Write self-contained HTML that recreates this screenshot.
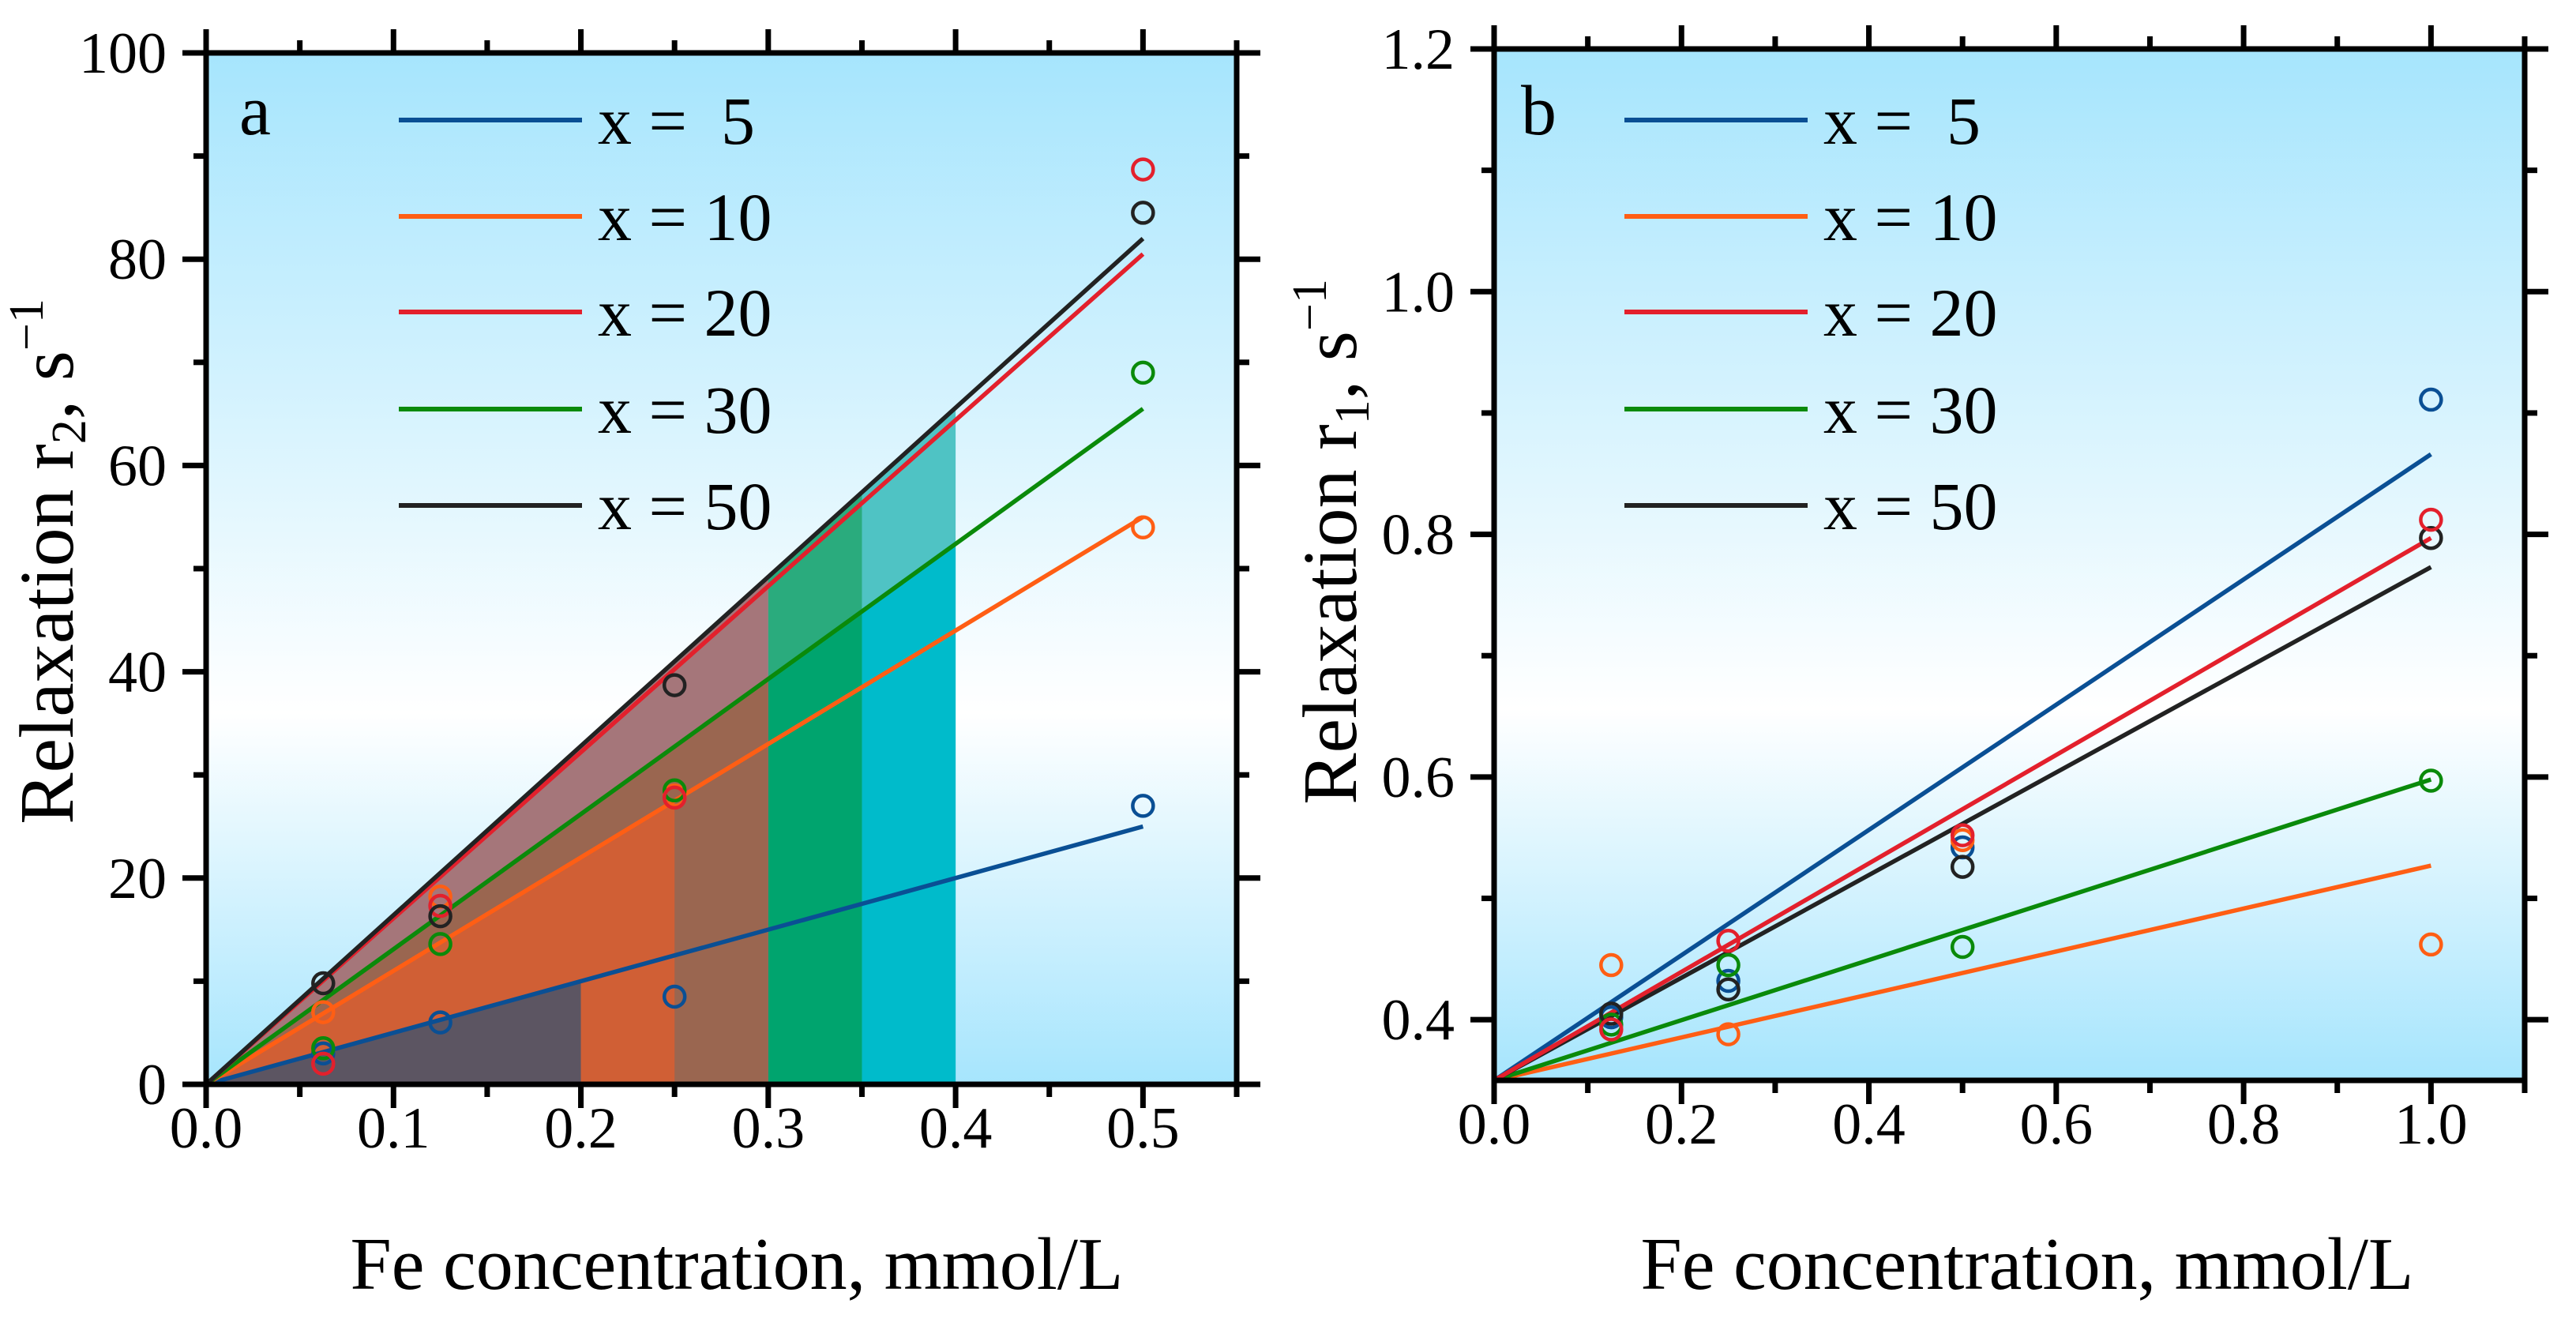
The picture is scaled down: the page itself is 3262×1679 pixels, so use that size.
<!DOCTYPE html>
<html><head><meta charset="utf-8">
<style>
html,body{margin:0;padding:0;background:#fff;}
svg{display:block;}
text{font-family:"Liberation Serif",serif;fill:#000;white-space:pre;}
</style></head>
<body>
<svg id="chart" width="3262" height="1679" viewBox="0 0 3262 1679" xmlns="http://www.w3.org/2000/svg">
<defs>
<linearGradient id="bg" x1="0" y1="0" x2="0" y2="1">
<stop offset="0" stop-color="#a6e5fd"/><stop offset="0.64" stop-color="#ffffff"/><stop offset="1" stop-color="#a6e5fd"/>
</linearGradient>
</defs>
</svg>
<script>
// ---- Panel a data (r2) ----
const seriesNames = ["x =  5", "x = 10", "x = 20", "x = 30", "x = 50"];
const seriesColors = ["#0a4f94", "#ff5e14", "#e3202c", "#0a8a0a", "#222222"];
const aXTicks = [0.0, 0.1, 0.2, 0.3, 0.4, 0.5];
const aYTicks = [0, 20, 40, 60, 80, 100];
const aLineEndX = 0.5;
const aLineEndY = [25, 55, 80.5, 65.5, 82];
const aPointX = [0.0625, 0.125, 0.25, 0.5];
const aPoints5 = [3, 6, 8.5, 27];
const aPoints10 = [7, 18.2, 28, 54];
const aPoints20 = [2, 17.3, 27.8, 88.7];
const aPoints30 = [3.5, 13.6, 28.5, 69];
const aPoints50 = [9.8, 16.3, 38.7, 84.5];
// ---- Panel b data (r1) ----
const bXTicks = [0.0, 0.2, 0.4, 0.6, 0.8, 1.0];
const bYTicks = [0.4, 0.6, 0.8, 1.0, 1.2];
const bIntercept = 0.35;
const bLineEndX = 1.0;
const bLineEndY = [0.866, 0.527, 0.797, 0.598, 0.773];
const bPointX = [0.125, 0.25, 0.5, 1.0];
const bPoints5 = [0.402, 0.432, 0.542, 0.911];
const bPoints10 = [0.445, 0.388, 0.548, 0.462];
const bPoints20 = [0.392, 0.465, 0.552, 0.812];
const bPoints30 = [0.396, 0.445, 0.46, 0.597];
const bPoints50 = [0.405, 0.425, 0.526, 0.797];

const NS = "http://www.w3.org/2000/svg";
const svg = document.getElementById("chart");
function mk(tag, attrs, parent) {
  const e = document.createElementNS(NS, tag);
  for (const k in attrs) e.setAttribute(k, attrs[k]);
  (parent || svg).appendChild(e);
  return e;
}

function panel(cfg) {
  const g = mk("g", {});
  
  
  const L = cfg.L, R = cfg.R, T = cfg.T, B = cfg.B;
  const sx = v => L + (v - cfg.xmin) / (cfg.xmax - cfg.xmin) * (R - L);
  const sy = v => B - (v - cfg.ymin) / (cfg.ymax - cfg.ymin) * (B - T);
  const bg = mk("rect", {x: L, y: T, width: R - L, height: B - T, fill: "url(#bg)"}, g);
  
  
  const lineY = (i, x) => cfg.y0 + (cfg.lineEndY[i] - cfg.y0) * x / cfg.lineEndX;
  if (cfg.areas) {
    cfg.areas.forEach(a => {
      const pts = [[sx(a.x0), sy(lineY(a.s, a.x0))], [sx(a.x1), sy(lineY(a.s, a.x1))], [sx(a.x1), sy(cfg.ymin)], [sx(a.x0), sy(cfg.ymin)]];
      const p = mk("polygon", {points: pts.map(p => p.join(",")).join(" "), fill: a.c}, g);
      
      
    });
  }
  cfg.drawOrder.forEach(i => {
    const l = mk("line", {x1: sx(0), y1: sy(cfg.y0), x2: sx(cfg.lineEndX), y2: sy(cfg.lineEndY[i]), stroke: seriesColors[i], "stroke-width": 5.5}, g);
    
    
  });
  cfg.drawOrder.forEach(i => {
    cfg.points[i].forEach((v, j) => {
      const c = mk("circle", {cx: sx(cfg.pointX[j]), cy: sy(v), r: 13, fill: "none", stroke: seriesColors[i], "stroke-width": 4.5}, g);
      
      
    });
  });
  const fr = mk("rect", {x: L, y: T, width: R - L, height: B - T, fill: "none", stroke: "#000", "stroke-width": 7}, g);
  
  
  const tk = (x1, y1, x2, y2) => mk("line", {x1, y1, x2, y2, stroke: "#000", "stroke-width": 7}, g);
  for (let v = cfg.xmin; v <= cfg.xmax + 1e-9; v += cfg.xminor) {
    const k = Math.round(v / cfg.xminor);
    const len = (k % 2 === 0) ? 30 : 16;
    const x = sx(v);
    tk(x, B, x, B + len); tk(x, T, x, T - len);
  }
  const yStart = Math.ceil(cfg.ymin / cfg.yminor - 1e-9) * cfg.yminor;
  for (let v = yStart; v <= cfg.ymax + 1e-9; v += cfg.yminor) {
    const k = Math.round(v / cfg.yminor);
    const len = (k % 2 === 0) ? 30 : 16;
    const y = sy(v);
    tk(L, y, L - len, y); tk(R, y, R + len, y);
  }
  cfg.xTicks.forEach(v => {
    const t = mk("text", {x: sx(v), y: B + 80, "font-size": 74, "text-anchor": "middle"}, g);
    t.textContent = v.toFixed(1);
    
    
  });
  cfg.yTicks.forEach(v => {
    const t = mk("text", {x: L - 50, y: sy(v) + 25, "font-size": 74, "text-anchor": "end"}, g);
    t.textContent = cfg.yFmt(v);
    
    
  });
  const xt = mk("text", {x: cfg.xTitleX, y: 1632, "font-size": 94, "text-anchor": "middle"}, g);
  xt.textContent = "Fe concentration, mmol/L";
  
  
  const yt = mk("text", {x: 0, y: 0, "font-size": 98, "text-anchor": "middle", transform: "translate(" + cfg.yTitleX + "," + cfg.yTitleY + ") rotate(-90)"}, g);
  yt.innerHTML = 'Relaxation r<tspan font-size="62" dy="16">' + cfg.sub + '</tspan><tspan dy="-16">, s</tspan><tspan font-size="62" dy="-38">−1</tspan>';
  
  
  const pl = mk("text", {x: cfg.letterX, y: 170, "font-size": 90}, g);
  pl.textContent = cfg.letter;
  
  
  const rows = [152, 274, 395, 518, 640];
  seriesNames.forEach((n, i) => {
    const lg = mk("g", {}, g);
    
    
    mk("line", {x1: cfg.legX, y1: rows[i], x2: cfg.legX + 232, y2: rows[i], stroke: seriesColors[i], "stroke-width": 6}, lg);
    const t = mk("text", {x: cfg.legX + 252, y: rows[i] + 30, "font-size": 86}, lg);
    t.textContent = n;
  });
}

panel({name: "panel-a-r2", L: 261, R: 1566, T: 67, B: 1373, xmin: 0, xmax: 0.55, ymin: 0, ymax: 100,
  xminor: 0.05, yminor: 10, xTicks: aXTicks, yTicks: aYTicks, yFmt: v => String(v),
  y0: 0, lineEndX: aLineEndX, lineEndY: aLineEndY, pointX: aPointX,
  points: [aPoints5, aPoints10, aPoints20, aPoints30, aPoints50],
  drawOrder: [0, 1, 3, 2, 4],
  areas: [
    {s: 4, x0: 0, x1: 0.4, c: "#4fc3c4"},
    {s: 3, x0: 0.35, x1: 0.4, c: "#00bbcb"},
    {s: 4, x0: 0.3, x1: 0.35, c: "#2aab7d"},
    {s: 3, x0: 0.3, x1: 0.35, c: "#00a46e"},
    {s: 4, x0: 0, x1: 0.3, c: "#a5767a"},
    {s: 3, x0: 0, x1: 0.3, c: "#9a6650"},
    {s: 1, x0: 0, x1: 0.25, c: "#d05f35"},
    {s: 0, x0: 0, x1: 0.2, c: "#5c5562"}
  ],
  xTitleX: 933, yTitleX: 92, yTitleY: 711, sub: "2", letter: "a", letterX: 303, legX: 505});

panel({name: "panel-b-r1", L: 1892, R: 3197, T: 62, B: 1368, xmin: 0, xmax: 1.1, ymin: 0.35, ymax: 1.2,
  xminor: 0.1, yminor: 0.1, xTicks: bXTicks, yTicks: bYTicks, yFmt: v => v.toFixed(1),
  y0: bIntercept, lineEndX: bLineEndX, lineEndY: bLineEndY, pointX: bPointX,
  points: [bPoints5, bPoints10, bPoints20, bPoints30, bPoints50],
  drawOrder: [0, 1, 3, 4, 2],
  areas: null,
  xTitleX: 2567, yTitleX: 1717, yTitleY: 686, sub: "1", letter: "b", letterX: 1926, legX: 2057});
</script>
</body></html>
